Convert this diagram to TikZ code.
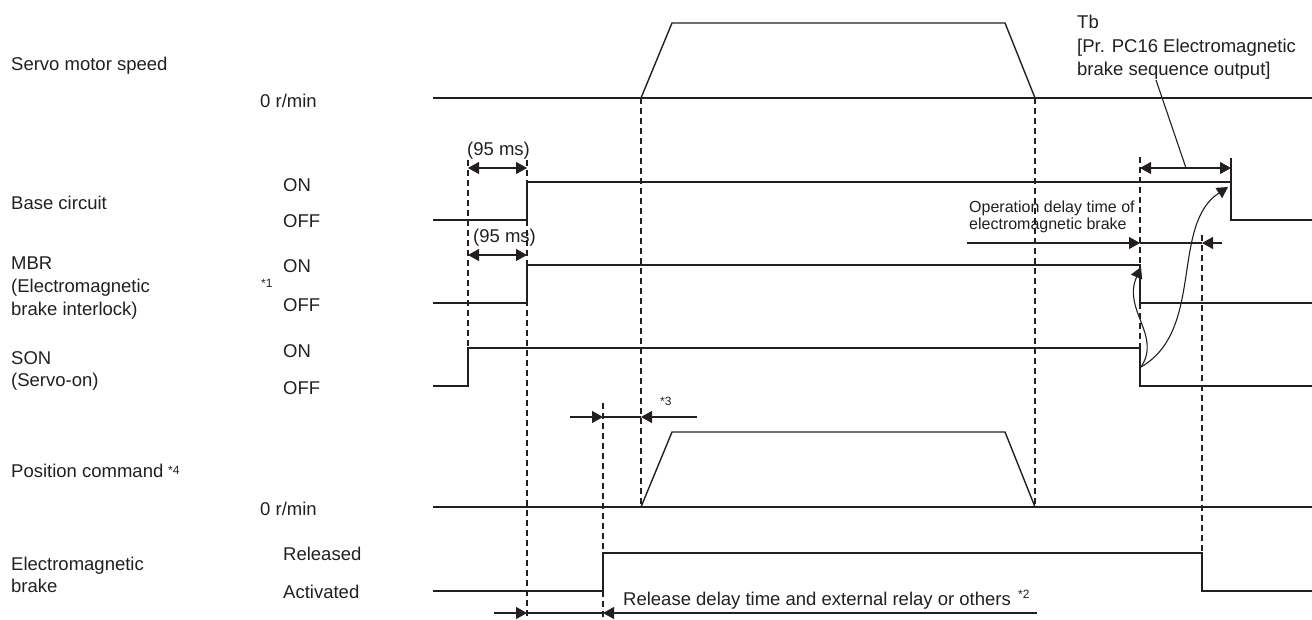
\documentclass[tikz,border=0pt]{standalone}
\usepackage{fontspec}
\setmainfont{Liberation Sans}
\usetikzlibrary{arrows.meta}
\definecolor{ink}{HTML}{231F20}
\tikzset{
  lbl/.style={font=\fontsize{18.5}{21}\selectfont, anchor=base west, inner sep=0pt, text=ink},
  lblsm/.style={font=\fontsize{16}{19}\selectfont, anchor=base west, inner sep=0pt, text=ink},
  sup/.style={font=\fontsize{12}{14}\selectfont, anchor=base west, inner sep=0pt, text=ink},
  sig/.style={draw=ink, line width=1.4pt, line join=miter},
  dsh/.style={draw=ink, line width=1.1pt, dash pattern=on 6pt off 4pt},
  dim/.style={draw=ink, line width=1.1pt},
  tip/.style={-{Triangle[length=11pt,width=12pt]}},
  tips/.style={{Triangle[length=11pt,width=12pt]}-{Triangle[length=11pt,width=12pt]}},
}
\begin{document}
\begin{tikzpicture}[x=1pt,y=-1pt]
\useasboundingbox (0,0) rectangle (1312,619);

% ---------- left labels ----------
\node[lbl] (lspeed) at (11,70) {Servo motor speed};
\node[lbl] (lzero1) at (260,107) {0 r/min};
\node[lbl] (lbase) at (11,209) {Base circuit};
\node[lbl] (lbon) at (283,191) {ON};
\node[lbl] (lboff) at (283,227) {OFF};
\node[lbl] (lmbr1) at (11,269) {MBR};
\node[lbl] (lmbr2) at (11,292) {(Electromagnetic};
\node[lbl] (lmbr3) at (11,315) {brake interlock)};
\node[sup] (s1) at (261,287) {*1};
\node[lbl] (lmon) at (283,272) {ON};
\node[lbl] (lmoff) at (283,311) {OFF};
\node[lbl] (lson1) at (11,364) {SON};
\node[lbl] (lson2) at (11,386) {(Servo-on)};
\node[lbl] (lson) at (283,357) {ON};
\node[lbl] (lsoff) at (283,394) {OFF};
\node[lbl] (lpos) at (11,477) {Position command};
\node[sup] (s4) at (168,474) {*4};
\node[lbl] (lzero2) at (260,515) {0 r/min};
\node[lbl] (lbr1) at (11,570) {Electromagnetic};
\node[lbl] (lbr2) at (11,592) {brake};
\node[lbl] (lrel) at (283,560) {Released};
\node[lbl] (lact) at (283,598) {Activated};

% ---------- waveforms ----------
% servo motor speed
\draw[sig] (433,98) -- (1312,98);
\draw[sig] (641,98) -- (672,23) -- (1005,23) -- (1035,98);
% base circuit
\draw[sig] (433,220) -- (527,220) -- (527,182) -- (1231,182) -- (1231,220) -- (1312,220);
% MBR
\draw[sig] (433,303) -- (527,303) -- (527,265) -- (1140,265) -- (1140,303) -- (1312,303);
% SON
\draw[sig] (433,386) -- (468,386) -- (468,348) -- (1140,348) -- (1140,386) -- (1312,386);
% position command
\draw[sig] (433,507) -- (1312,507);
\draw[sig] (641,507) -- (672,432) -- (1005,432) -- (1035,507);
% electromagnetic brake
\draw[sig] (433,591) -- (603,591) -- (603,553) -- (1202,553) -- (1202,591) -- (1312,591);

% ---------- dashed guides ----------
\draw[dsh] (468,160) -- (468,348);
\draw[dsh] (527,160) -- (527,619);
\draw[dsh] (603,403) -- (603,553);
\draw[dsh] (603,591) -- (603,619);
\draw[dsh] (641,98) -- (641,507);
\draw[dsh] (1035,98) -- (1035,507);
\draw[dsh] (1140,157) -- (1140,265);
\draw[dsh] (1140,303) -- (1140,348);
\draw[dsh] (1202,235) -- (1202,553);

% ---------- (95 ms) ----------
\node[lbl] (t95a) at (467,155) {(95 ms)};
\coordinate (a1) at (468,168); \coordinate (a2) at (527,168);
\draw[dim,tips] (a1) -- (a2);
\node[lbl] (t95b) at (473,242) {(95 ms)};
\coordinate (b1) at (468,255); \coordinate (b2) at (527,255);
\draw[dim,tips] (b1) -- (b2);

% ---------- *3 ----------
\coordinate (c0) at (570,417); \coordinate (c1) at (603,417);
\coordinate (c2) at (641,417); \coordinate (c3) at (697,417);
\draw[dim,tip] (c0) -- (c1);
\draw[dim] (c1) -- (c2);
\draw[dim,tip] (c3) -- (c2);
\node[sup] (s3) at (660,405) {*3};

% ---------- release delay ----------
\coordinate (d0) at (494,613); \coordinate (d1) at (527,613);
\coordinate (d2) at (603,613); \coordinate (d3) at (1037,613);
\draw[dim,tip] (d0) -- (d1);
\draw[dim] (d1) -- (d2);
\draw[dim,tip] (d3) -- (d2);
\node[lbl] (trel) at (623,605) {Release delay time and external relay or others};
\node[sup] (s2) at (1018,598) {*2};

% ---------- operation delay ----------
\node[lblsm] (top1) at (969,212) {Operation delay time of};
\node[lblsm] (top2) at (969,229) {electromagnetic brake};
\coordinate (e0) at (967,243); \coordinate (e1) at (1140,243);
\coordinate (e2) at (1202,243); \coordinate (e3) at (1222,243);
\draw[dim,tip] (e0) -- (e1);
\draw[dim] (e1) -- (e2);
\draw[dim,tip] (e3) -- (e2);

% ---------- Tb ----------
\node[lbl] (tb1) at (1077,28) {Tb};
\node[lbl] (tb2) at (1077,52) {[Pr. PC16 Electromagnetic};
\node[lbl] (tb3) at (1077,75) {brake sequence output]};
\coordinate (f1) at (1140,168); \coordinate (f2) at (1231,168);
\draw[dim,tips] (f1) -- (f2);
\draw[dim] (1231,158) -- (1231,182);
\coordinate (lead1) at (1186,168); \coordinate (lead2) at (1156,80);
\draw[dim] (lead1) -- (lead2);

% ---------- causal curves ----------
\coordinate (son) at (1141,367);
\coordinate (mbrp) at (1141,267);
\coordinate (basep) at (1228,187);
\draw[dim,tip] (son) .. controls (1162,335) and (1122,310) .. (mbrp);
\draw[dim,tip] (son) .. controls (1205,330) and (1170,225) .. (basep);
\end{tikzpicture}
\end{document}
